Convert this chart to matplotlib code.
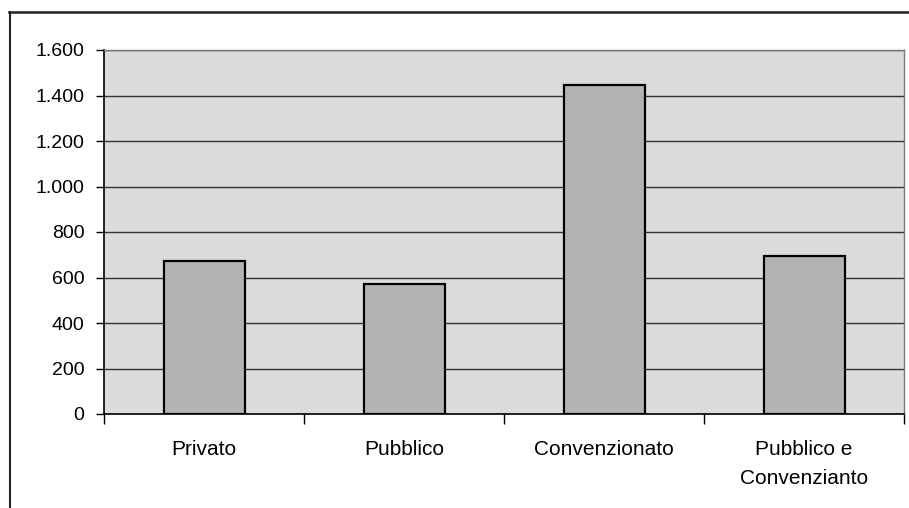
import matplotlib.pyplot as plt
from matplotlib.lines import Line2D
from matplotlib.ticker import FuncFormatter

categories = ["Privato", "Pubblico", "Convenzionato", "Pubblico e\nConvenzianto"]
values = [672, 571, 1446, 696]
y_ticks = [0, 200, 400, 600, 800, 1000, 1200, 1400, 1600]

plt.rcParams['font.family'] = ['Liberation Sans', 'DejaVu Sans']

fig = plt.figure(figsize=(9.09, 5.08), dpi=100)
fig.patch.set_facecolor('white')
ax = fig.add_axes([104 / 909, 1 - 414 / 508, 800 / 909, 364 / 508])

ax.set_facecolor('#dcdcdc')
x = range(len(categories))
ax.bar(x, values, width=0.405, color='#b3b3b3', edgecolor='black', linewidth=1.6, zorder=3)

ax.set_xlim(-0.5, len(categories) - 0.5)
ax.set_ylim(0, 1600)
ax.set_yticks(y_ticks)
ax.yaxis.set_major_formatter(FuncFormatter(lambda v, p: f"{int(v):,}".replace(",", ".")))
ax.grid(axis='y', color='#333333', linewidth=1.0, zorder=1)

# category boundaries as major ticks, labels at the centres
ax.set_xticks([i - 0.5 for i in range(len(categories) + 1)])
ax.set_xticklabels([])
ax.set_xticks(list(x), minor=True)
ax.set_xticklabels(categories, minor=True, fontsize=15, linespacing=1.65, va='top')
ax.tick_params(axis='x', which='major', length=7, width=1, color='black')
ax.tick_params(axis='x', which='minor', length=0, pad=19)
ax.tick_params(axis='y', length=6, width=1, labelsize=14, pad=8)

for side in ['left', 'bottom']:
    ax.spines[side].set_color('black')
    ax.spines[side].set_linewidth(1.2)
for side in ['top', 'right']:
    ax.spines[side].set_color('#777777')
    ax.spines[side].set_linewidth(1.0)

# outer frame of the scanned figure
fig.add_artist(Line2D([9 / 909, 1.0], [1 - 12 / 508, 1 - 12 / 508], color='#222222', linewidth=1.8,
                      transform=fig.transFigure))
fig.add_artist(Line2D([9.5 / 909, 9.5 / 909], [1 - 12 / 508, 0], color='#222222', linewidth=1.5,
                      transform=fig.transFigure))

fig.savefig("out.png", dpi=100)
